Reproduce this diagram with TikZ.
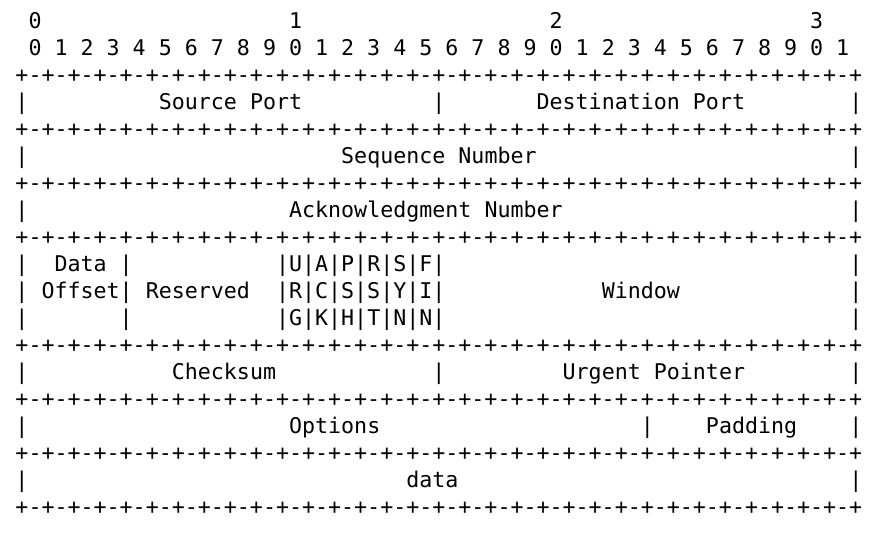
\documentclass[tikz,border=0pt]{standalone}
\usepackage{fontspec}
\newfontfamily\monofnt{DejaVu Sans Mono}
\newcommand\sk[1]{\hspace*{#1\fontcharwd\font`0}}
\newcommand\borderline{+-+-+-+-+-+-+-+-+-+-+-+-+-+-+-+-+-+-+-+-+-+-+-+-+-+-+-+-+-+-+-+-+}
\tikzset{
  asciiline/.style={anchor=base west, inner sep=0pt, outer sep=0pt,
    font=\monofnt\fontsize{21.64pt}{27pt}\selectfont, text=black}
}
\begin{document}
\begin{tikzpicture}[x=1pt,y=1pt]
\fill[white] (0,0) rectangle (875,-536);
\useasboundingbox (0,0) rectangle (875,-536);
\node[asciiline] (l0)  at (15.5,-28)  {\sk{1}0\sk{19}1\sk{19}2\sk{19}3};
\node[asciiline] (l1)  at (15.5,-55)  {\sk{1}0 1 2 3 4 5 6 7 8 9 0 1 2 3 4 5 6 7 8 9 0 1 2 3 4 5 6 7 8 9 0 1};
\node[asciiline] (l2)  at (15.5,-82)  {\borderline};
\node[asciiline] (l3)  at (15.5,-109) {|\sk{10}Source Port\sk{10}|\sk{7}Destination Port\sk{8}|};
\node[asciiline] (l4)  at (15.5,-136) {\borderline};
\node[asciiline] (l5)  at (15.5,-163) {|\sk{24}Sequence Number\sk{24}|};
\node[asciiline] (l6)  at (15.5,-190) {\borderline};
\node[asciiline] (l7)  at (15.5,-217) {|\sk{20}Acknowledgment Number\sk{22}|};
\node[asciiline] (l8)  at (15.5,-244) {\borderline};
\node[asciiline] (l9)  at (15.5,-271) {|\sk{2}Data\sk{1}|\sk{11}|U|A|P|R|S|F|\sk{31}|};
\node[asciiline] (l10) at (15.5,-298) {|\sk{1}Offset|\sk{1}Reserved\sk{2}|R|C|S|S|Y|I|\sk{12}Window\sk{13}|};
\node[asciiline] (l11) at (15.5,-325) {|\sk{7}|\sk{11}|G|K|H|T|N|N|\sk{31}|};
\node[asciiline] (l12) at (15.5,-352) {\borderline};
\node[asciiline] (l13) at (15.5,-379) {|\sk{11}Checksum\sk{12}|\sk{9}Urgent Pointer\sk{8}|};
\node[asciiline] (l14) at (15.5,-406) {\borderline};
\node[asciiline] (l15) at (15.5,-433) {|\sk{20}Options\sk{20}|\sk{4}Padding\sk{4}|};
\node[asciiline] (l16) at (15.5,-460) {\borderline};
\node[asciiline] (l17) at (15.5,-487) {|\sk{29}data\sk{30}|};
\node[asciiline] (l18) at (15.5,-514) {\borderline};
\end{tikzpicture}
\end{document}
